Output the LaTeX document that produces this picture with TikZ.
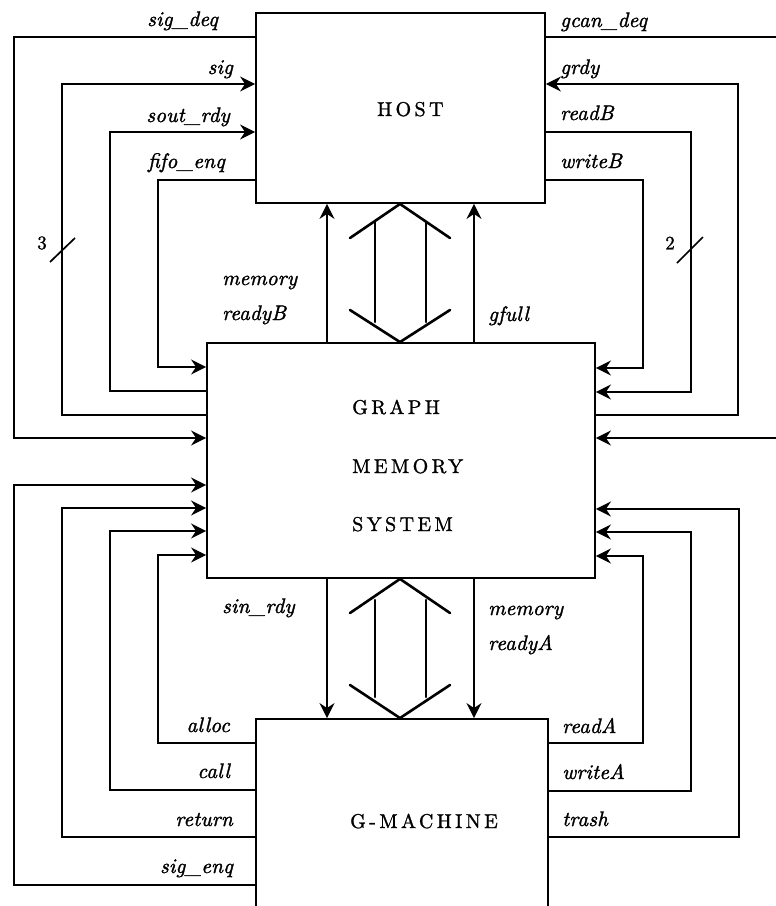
\documentclass[tikz,border=0pt]{standalone}
\usepackage{fontspec}
\newfontfamily\ttlfont{lmroman10-regular}[Extension=.otf, LetterSpace=17, FakeBold=1.2]
\newfontfamily\labfont{lmroman10-italic}[Extension=.otf, LetterSpace=1, FakeBold=1.6]
\newfontfamily\numfont{lmroman10-regular}[Extension=.otf, FakeBold=1.2]
\usetikzlibrary{arrows.meta}
\begin{document}
\begin{tikzpicture}[x=1pt,y=-1pt,
  box/.style={draw, line width=1.9pt, inner sep=0pt},
  sigline/.style={line width=1.7pt},
  thinline/.style={line width=1.1pt},
  tip/.style={-{Stealth[length=15pt,width=15pt,inset=5pt]}},
  lab/.style={font=\labfont\fontsize{21}{23}\selectfont, inner sep=0pt},
  ttl/.style={font=\ttlfont\fontsize{20}{22}\selectfont, inner sep=0pt},
  num/.style={font=\numfont\fontsize{19}{21}\selectfont, inner sep=0pt},
  dbl/.style={line width=2.6pt, line cap=round, line join=miter}]
\useasboundingbox (0,0) rectangle (776,906);

% boxes
\node[box, minimum width=289pt, minimum height=190pt] (host) at (400.5,108) {};
\node[box, minimum width=388pt, minimum height=235pt] (gms) at (401,460.5) {};
\node[box, minimum width=292pt, minimum height=220pt] (gm) at (402,829) {};

% titles
\node[ttl, anchor=base west] (thost) at (377,116) {HOST};
\node[ttl, anchor=base west] (tg1) at (352,414) {GRAPH};
\node[ttl, anchor=base west] (tg2) at (352,473) {MEMORY};
\node[ttl, anchor=base west] (tg3) at (352,531) {SYSTEM};
\node[ttl, anchor=base east] (tgm) at (498,828) {G-MACHINE};

% free ends at the right edge
\coordinate (edgeA) at (776,37);
\coordinate (edgeB) at (776,438);

% top left
\draw[sigline, tip] (host.west |- 0,37) -| (14,438) -- (gms.west |- 0,438);
\draw[sigline, tip] (gms.west |- 0,415) -| (62,84) -- (host.west |- 0,84);
\draw[thinline, tip] (gms.west |- 0,391) -| (110,132) -- (host.west |- 0,132);
\draw[sigline, tip] (host.west |- 0,180) -| (158,367) -- (gms.west |- 0,367);

% top right
\draw[sigline] (host.east |- 0,37) -- (edgeA);
\draw[sigline, tip] (edgeB) -- (gms.east |- 0,438);
\draw[thinline, tip] (gms.east |- 0,415) -| (738,84) -- (host.east |- 0,84);
\draw[sigline, tip] (host.east |- 0,132) -| (691,392) -- (gms.east |- 0,392);
\draw[sigline, tip] (host.east |- 0,180) -| (643,368) -- (gms.east |- 0,368);

% bottom left
\draw[sigline, tip] (gm.west |- 0,885) -| (14,485) -- (gms.west |- 0,485);
\draw[sigline, tip] (gm.west |- 0,837) -| (62,508) -- (gms.west |- 0,508);
\draw[sigline, tip] (gm.west |- 0,790) -| (110,531) -- (gms.west |- 0,531);
\draw[thinline, tip] (gm.west |- 0,743) -| (158,555) -- (gms.west |- 0,555);

% bottom right
\draw[sigline, tip] (gm.east |- 0,837) -| (739,509) -- (gms.east |- 0,509);
\draw[thinline, tip] (gm.east |- 0,791) -| (691,532) -- (gms.east |- 0,532);
\draw[thinline, tip] (gm.east |- 0,743) -| (643,556) -- (gms.east |- 0,556);

% vertical signals
\draw[thinline, tip] (gms.north -| 327,0) -- (host.south -| 327,0);
\draw[sigline, tip] (gms.north -| 474,0) -- (host.south -| 474,0);
\draw[thinline, tip] (gms.south -| 327,0) -- (gm.north -| 327,0);
\draw[sigline, tip] (gms.south -| 474,0) -- (gm.north -| 474,0);

% double arrows (data buses)
\draw[dbl] (350,238) -- (host.south -| 400,0) -- (450,238);
\draw[dbl] (375,222) -- (375,322);
\draw[dbl] (426,222) -- (426,322);
\draw[dbl] (350,310) -- (gms.north -| 400,0) -- (450,310);

\draw[dbl] (350,613) -- (gms.south -| 400,0) -- (450,613);
\draw[dbl] (375,600) -- (375,697);
\draw[dbl] (426,600) -- (426,697);
\draw[dbl] (350,685) -- (gm.north -| 400,0) -- (450,685);

% bus width marks
\draw[sigline] (50,262) -- (75,238);
\node[num] (n3) at (42,243) {3};
\draw[sigline] (677,263) -- (703,237);
\node[num] (n2) at (670,243) {2};

% labels left top
\node[lab, anchor=base east] (l1) at (218,26) {sig\_deq};
\node[lab, anchor=base east] (l2) at (233,74) {sig};
\node[lab, anchor=base east] (l3) at (230,122) {sout\_rdy};
\node[lab, anchor=base east] (l4) at (225,168) {fifo\_enq};
% labels right top
\node[lab, anchor=base west] (r1) at (560,27) {gcan\_deq};
\node[lab, anchor=base west] (r2) at (560,74) {grdy};
\node[lab, anchor=base west] (r3) at (560,120) {readB};
\node[lab, anchor=base west] (r4) at (560,168) {writeB};
% middle labels
\node[lab, anchor=base west] (m1) at (222,285) {memory};
\node[lab, anchor=base west] (m2) at (222,320) {readyB};
\node[lab, anchor=base west] (m3) at (488,321) {gfull};
\node[lab, anchor=base west] (m4) at (222,613) {sin\_rdy};
\node[lab, anchor=base west] (m5) at (488,615) {memory};
\node[lab, anchor=base west] (m6) at (488,650) {readyA};
% labels bottom left
\node[lab, anchor=base east] (b1) at (230,732) {alloc};
\node[lab, anchor=base east] (b2) at (230,778) {call};
\node[lab, anchor=base east] (b3) at (233,826) {return};
\node[lab, anchor=base east] (b4) at (233,873) {sig\_enq};
% labels bottom right
\node[lab, anchor=base west] (c1) at (562,733) {readA};
\node[lab, anchor=base west] (c2) at (562,779) {writeA};
\node[lab, anchor=base west] (c3) at (562,826) {trash};
\end{tikzpicture}
\end{document}
